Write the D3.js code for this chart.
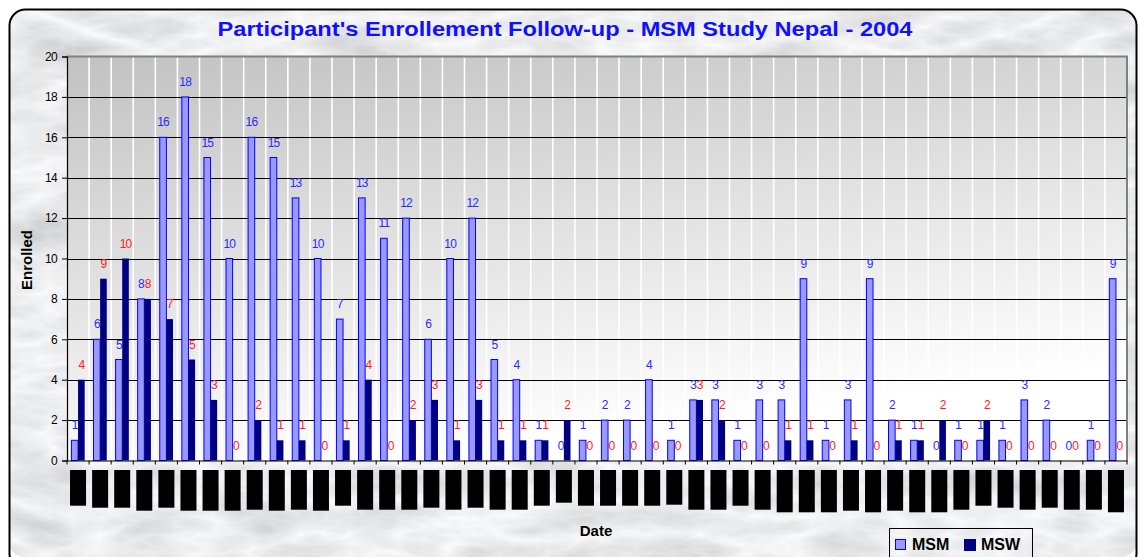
<!DOCTYPE html>
<html>
<head>
<meta charset="utf-8">
<script src="https://cdn.jsdelivr.net/npm/d3@7"></script>
<style>
  html, body { margin: 0; padding: 0; background: #ffffff; }
  svg { display: block; }
  text { font-family: "Liberation Sans", Arial, sans-serif; }
</style>
</head>
<body>
<svg id="chart" width="1140" height="557"></svg>
<script>
// ---------- DATA ----------
const title = "Participant's Enrollement Follow-up - MSM Study Nepal - 2004";
const categories = ["1","2","3","4","5","6","7","8","9","10","11","12","13","14","15","16",
  "17","18","19","20","21","22","23","24","25","26","27","28","29","30","31","32",
  "33","34","35","36","37","38","39","40","41","42","43","44","45","46","47","48"];
const msm = [1,6,5,8,16,18,15,10,16,15,13,10,7,13,11,12,6,10,12,5,4,1,0,1,2,2,4,1,3,3,1,3,3,9,1,3,9,2,1,0,1,1,1,3,2,0,1,9];
const msw = [4,9,10,8,7,5,3,0,2,1,1,0,1,4,0,2,3,1,3,1,1,1,2,0,0,0,0,0,3,2,0,0,1,1,0,1,0,1,1,2,0,2,0,0,0,0,0,0];
const seriesNames = ["MSM", "MSW"];
const yTicks = [0,2,4,6,8,10,12,14,16,18,20];
// redacted date labels (black boxes) - length of each box as seen in the picture
const redactedLabelLen = [35.7,37.7,37.7,40.7,37.7,40.7,40.7,40.7,39.7,40.7,39.7,40.7,35.7,39.7,39.7,39.7,
  37.7,39.7,37.7,39.7,39.7,35.7,32.7,35.7,35.7,35.7,35.7,34.7,39.7,39.7,35.7,39.7,
  42.3,42.3,42.3,40.7,42.3,40.7,42.3,42.3,39.7,35.7,37.7,39.7,37.7,39.7,39.7,42.3];

// ---------- LAYOUT ----------
const svg = d3.select("#chart");
const plot = {left: 67, right: 1127, top: 56.5, bottom: 460.5};

const defs = svg.append("defs");
// marble texture
const f = defs.append("filter").attr("id", "marble").attr("x", 0).attr("y", 0).attr("width", 1).attr("height", 1);
f.append("feTurbulence").attr("type", "turbulence").attr("baseFrequency", "0.01 0.028")
  .attr("numOctaves", 5).attr("seed", 3).attr("result", "noise");
f.append("feColorMatrix").attr("in", "noise").attr("type", "matrix")
  .attr("values", "-0.42 0 0 0 0.97  -0.42 0 0 0 0.975  -0.42 0 0 0 0.985  0 0 0 0 1");
const pg = defs.append("linearGradient").attr("id", "plotbg")
  .attr("x1", 0).attr("y1", 0).attr("x2", 0.35).attr("y2", 1);
pg.append("stop").attr("offset", "0%").attr("stop-color", "#c2c2c2");
pg.append("stop").attr("offset", "100%").attr("stop-color", "#ffffff");
defs.append("clipPath").attr("id", "outerclip").append("rect")
  .attr("x", 9).attr("y", 9).attr("width", 1128).attr("height", 548).attr("rx", 16);

// outer marble panel
svg.append("rect").attr("x", 9).attr("y", 9).attr("width", 1128).attr("height", 548).attr("rx", 16)
  .attr("fill", "#e6e6e6");
svg.append("g").attr("clip-path", "url(#outerclip)")
  .append("rect").attr("x", 9).attr("y", 9).attr("width", 1128).attr("height", 548)
  .attr("filter", "url(#marble)");
svg.append("rect").attr("x", 9.5).attr("y", 9.5).attr("width", 1127).attr("height", 560).attr("rx", 16)
  .attr("fill", "none").attr("stroke", "#000").attr("stroke-width", 2);

// title
svg.append("text").attr("x", 565).attr("y", 36).attr("text-anchor", "middle")
  .attr("font-size", 20).attr("font-weight", "bold").attr("fill", "#1010ff")
  .attr("textLength", 695).attr("lengthAdjust", "spacingAndGlyphs")
  .text(title);

// scales
const x = d3.scaleBand().domain(categories).range([plot.left, plot.right]).paddingInner(0).paddingOuter(0);
const y = d3.scaleLinear().domain([0, 20]).range([plot.bottom, plot.top]);
const barW = x.bandwidth() * 0.3;

// plot background
svg.append("rect").attr("x", plot.left).attr("y", plot.top)
  .attr("width", plot.right - plot.left).attr("height", plot.bottom - plot.top)
  .attr("fill", "url(#plotbg)");

// vertical white gridlines at category boundaries
svg.append("g").selectAll("line").data(categories.slice(1)).join("line")
  .attr("x1", d => x(d)).attr("x2", d => x(d))
  .attr("y1", plot.top).attr("y2", plot.bottom)
  .attr("stroke", "#ffffff").attr("stroke-width", 1.6);

// horizontal gridlines
svg.append("g").selectAll("line").data(yTicks.filter(t => t > 0 && t < 20)).join("line")
  .attr("x1", plot.left).attr("x2", plot.right)
  .attr("y1", d => Math.round(y(d)) + 0.5).attr("y2", d => Math.round(y(d)) + 0.5)
  .attr("stroke", "#000").attr("stroke-width", 1);

// plot border top/right (gray)
svg.append("path")
  .attr("d", `M${plot.left},${plot.top} H${plot.right} V${plot.bottom}`)
  .attr("fill", "none").attr("stroke", "#808080").attr("stroke-width", 2);

// bars
const groups = svg.append("g").selectAll("g").data(categories).join("g");
groups.append("rect")
  .attr("x", d => x(d) + x.bandwidth() / 2 - barW)
  .attr("y", (d, i) => y(msm[i]))
  .attr("width", barW)
  .attr("height", (d, i) => y(0) - y(msm[i]))
  .attr("fill", "#9999ff").attr("stroke", "#0000ff").attr("stroke-width", 1)
  .attr("display", (d, i) => msm[i] === 0 ? "none" : null);
groups.append("rect")
  .attr("x", d => x(d) + x.bandwidth() / 2)
  .attr("y", (d, i) => y(msw[i]))
  .attr("width", barW)
  .attr("height", (d, i) => y(0) - y(msw[i]))
  .attr("fill", "#000080");

// value labels
groups.append("text")
  .attr("x", d => x(d) + x.bandwidth() / 2 - barW / 2)
  .attr("y", (d, i) => y(msm[i]) - 11)
  .attr("text-anchor", "middle").attr("font-size", 12).attr("letter-spacing", -0.9)
  .attr("fill", "#2a2aff")
  .text((d, i) => msm[i]);
groups.append("text")
  .attr("x", d => x(d) + x.bandwidth() / 2 + barW / 2)
  .attr("y", (d, i) => y(msw[i]) - 11)
  .attr("text-anchor", "middle").attr("font-size", 12).attr("letter-spacing", -0.9)
  .attr("fill", "#ff2020")
  .text((d, i) => msw[i]);

// y axis
const yAxis = d3.axisLeft(y).tickValues(yTicks).tickSize(5).tickPadding(5);
const gy = svg.append("g").attr("transform", `translate(${plot.left},0)`).call(yAxis);
gy.select(".domain").attr("stroke", "#000").attr("stroke-width", 1.2);
gy.selectAll(".tick line").attr("stroke", "#000");
gy.selectAll(".tick text").attr("font-family", "Liberation Sans, Arial, sans-serif")
  .attr("font-size", 12).attr("letter-spacing", -0.7).attr("fill", "#000");

// x axis
const xAxis = d3.axisBottom(x).tickSize(0).tickFormat("");
const gx = svg.append("g").attr("transform", `translate(0,${plot.bottom})`).call(xAxis);
gx.select(".domain").attr("stroke", "#000").attr("stroke-width", 1.2);
svg.append("g").selectAll("line").data(categories.concat(["end"])).join("line")
  .attr("x1", (d, i) => plot.left + i * x.bandwidth()).attr("x2", (d, i) => plot.left + i * x.bandwidth())
  .attr("y1", plot.bottom).attr("y2", plot.bottom + 4)
  .attr("stroke", "#000").attr("stroke-width", 1);

// redacted date labels
svg.append("g").selectAll("rect").data(categories).join("rect")
  .attr("x", d => x(d) + x.bandwidth() / 2 - 8)
  .attr("y", 470)
  .attr("width", 16)
  .attr("height", (d, i) => redactedLabelLen[i])
  .attr("fill", "#000");

// axis titles
svg.append("text").attr("x", 596).attr("y", 536).attr("text-anchor", "middle")
  .attr("font-size", 15).attr("font-weight", "bold").attr("fill", "#000").text("Date");
svg.append("text").attr("transform", "translate(32,260) rotate(-90)").attr("text-anchor", "middle")
  .attr("font-size", 15).attr("font-weight", "bold").attr("fill", "#000").text("Enrolled");

// legend
const lg = svg.append("g");
lg.append("rect").attr("x", 889.5).attr("y", 528.5).attr("width", 143).attr("height", 40)
  .attr("fill", "none").attr("stroke", "#000").attr("stroke-width", 1);
lg.append("rect").attr("x", 895.5).attr("y", 539.5).attr("width", 10).attr("height", 10)
  .attr("fill", "#9999ff").attr("stroke", "#0000ff");
lg.append("text").attr("x", 912).attr("y", 550).attr("font-size", 16).attr("font-weight", "bold")
  .attr("fill", "#000").text(seriesNames[0]);
lg.append("rect").attr("x", 964).attr("y", 539).attr("width", 12).attr("height", 12)
  .attr("fill", "#000080");
lg.append("text").attr("x", 981).attr("y", 550).attr("font-size", 16).attr("font-weight", "bold")
  .attr("fill", "#000").text(seriesNames[1]);
</script>
</body>
</html>
